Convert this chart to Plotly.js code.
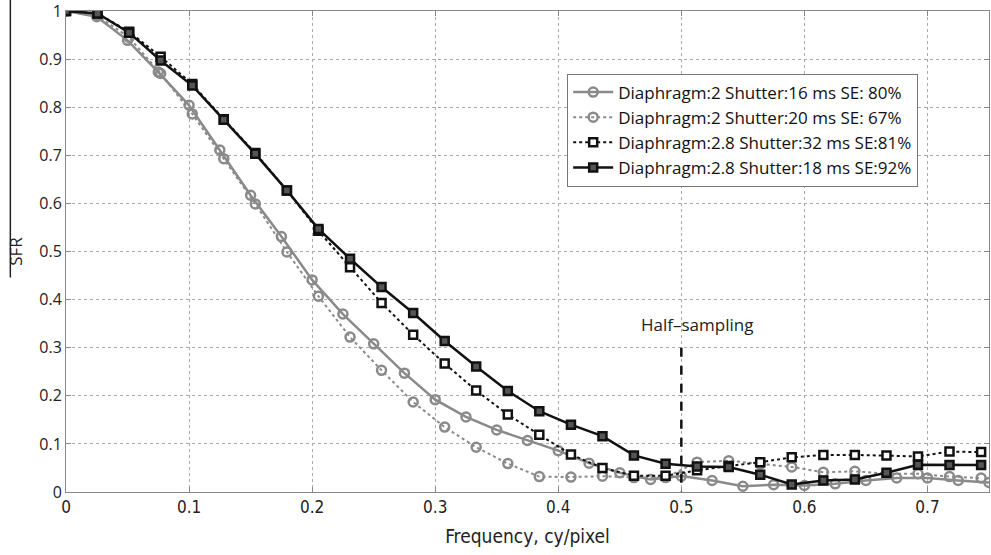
<!DOCTYPE html>
<html>
<head>
<meta charset="utf-8">
<script src="https://cdn.plot.ly/plotly-3.0.1.min.js"></script>
<style>html,body{margin:0;padding:0;background:#fff;}#chart{width:991px;height:555px;}</style>
</head>
<body>
<div id="chart"></div>
<script>
// Frequency grids (cy/pixel)
const freqA = [0, 0.025, 0.05, 0.075, 0.1, 0.125, 0.15, 0.175, 0.2, 0.225, 0.25, 0.275, 0.3, 0.325, 0.35, 0.375, 0.4, 0.425, 0.45, 0.475, 0.5, 0.525, 0.55, 0.575, 0.6, 0.625, 0.65, 0.675, 0.7, 0.725, 0.75];
const freqB = [0, 0.0256, 0.0513, 0.0769, 0.1026, 0.1282, 0.1538, 0.1795, 0.2051, 0.2308, 0.2564, 0.2821, 0.3077, 0.3333, 0.359, 0.3846, 0.4103, 0.4359, 0.4615, 0.4872, 0.5128, 0.5385, 0.5641, 0.5897, 0.6154, 0.641, 0.6667, 0.6923, 0.7179, 0.7436];

// Series names
const seriesNames = [
  "Diaphragm:2 Shutter:16 ms SE: 80%",
  "Diaphragm:2 Shutter:20 ms SE: 67%",
  "Diaphragm:2.8 Shutter:32 ms SE:81%",
  "Diaphragm:2.8 Shutter:18 ms SE:92%"
];

// SFR values
const sfrD2S16 = [1.0, 0.988, 0.939, 0.873, 0.804, 0.711, 0.617, 0.531, 0.441, 0.37, 0.308, 0.247, 0.192, 0.156, 0.129, 0.107, 0.086, 0.06, 0.040, 0.026, 0.033, 0.024, 0.012, 0.015, 0.0135, 0.017, 0.024, 0.029, 0.029, 0.024, 0.020];
const sfrD2S20 = [1.0, 0.99, 0.945, 0.87, 0.786, 0.693, 0.599, 0.499, 0.407, 0.322, 0.253, 0.187, 0.135, 0.093, 0.059, 0.032, 0.031, 0.033, 0.03, 0.03, 0.062, 0.065, 0.058, 0.052, 0.041, 0.043, 0.038, 0.038, 0.032, 0.029];
const sfrD28S32 = [1.0, 0.995, 0.957, 0.905, 0.848, 0.775, 0.705, 0.627, 0.543, 0.467, 0.393, 0.327, 0.267, 0.211, 0.161, 0.119, 0.078, 0.050, 0.034, 0.034, 0.045, 0.054, 0.062, 0.072, 0.077, 0.077, 0.076, 0.074, 0.084, 0.083];
const sfrD28S18 = [1.0, 0.995, 0.955, 0.897, 0.845, 0.774, 0.703, 0.627, 0.547, 0.485, 0.426, 0.372, 0.314, 0.261, 0.21, 0.168, 0.14, 0.116, 0.076, 0.0586, 0.053, 0.052, 0.036, 0.0156, 0.024, 0.026, 0.04, 0.0565, 0.056, 0.056];

const halfSampling = 0.5;
const halfSamplingTop = 0.3;

const xTicks = [0, 0.1, 0.2, 0.3, 0.4, 0.5, 0.6, 0.7];
const yTicks = [0, 0.1, 0.2, 0.3, 0.4, 0.5, 0.6, 0.7, 0.8, 0.9, 1];

const GRAY = '#8a8a8a';
const BLACK = '#111111';

const traces = [
  {x: freqA, y: sfrD2S16, name: seriesNames[0], mode: 'lines+markers',
   line: {color: GRAY, width: 2.5},
   marker: {symbol: 'circle-open', size: 9, color: GRAY, line: {width: 2.5, color: GRAY}}},
  {x: freqB, y: sfrD2S20, name: seriesNames[1], mode: 'lines+markers',
   line: {color: GRAY, width: 2, dash: 'dot'},
   marker: {symbol: 'circle-open', size: 9, color: GRAY, line: {width: 2.5, color: GRAY}}},
  {x: freqB, y: sfrD28S32, name: seriesNames[2], mode: 'lines+markers',
   line: {color: BLACK, width: 2, dash: 'dot'},
   marker: {symbol: 'square', size: 8, color: '#ffffff', line: {width: 2.5, color: BLACK}}},
  {x: freqB, y: sfrD28S18, name: seriesNames[3], mode: 'lines+markers',
   line: {color: BLACK, width: 2.5},
   marker: {symbol: 'square', size: 8, color: '#555555', line: {width: 2.5, color: BLACK}}}
];

const axisCommon = {
  showline: true, linecolor: '#888', linewidth: 1, mirror: 'ticks',
  ticks: 'inside', ticklen: 5, tickcolor: '#888',
  showgrid: true, gridcolor: '#aaa', gridwidth: 1, griddash: 'dot',
  zeroline: false, ticklabeloverflow: 'allow'
};

const layout = {
  width: 991, height: 555,
  margin: {l: 66, r: 2, t: 11, b: 63},
  paper_bgcolor: '#fff', plot_bgcolor: '#fff',
  font: {family: 'Open Sans, sans-serif', size: 16, color: '#222'},
  showlegend: true,
  legend: {x: 0.543, y: 0.87, xanchor: 'left', yanchor: 'top',
           bgcolor: '#fff', bordercolor: '#777', borderwidth: 1,
           font: {family: 'Open Sans, sans-serif', size: 17, color: '#111'},
           itemwidth: 40},
  xaxis: Object.assign({}, axisCommon, {
    range: [0, 0.75], tickvals: xTicks, ticktext: xTicks.map(String),
    tickfont: {family: 'Liberation Sans Narrow, DejaVu Sans Condensed, sans-serif', size: 17, color: '#222'},
    title: {text: 'Frequency, cy/pixel', standoff: 13,
            font: {family: 'Liberation Sans Narrow, DejaVu Sans Condensed, sans-serif', size: 19, color: '#222'}}
  }),
  yaxis: Object.assign({}, axisCommon, {
    range: [0, 1], tickvals: yTicks, ticktext: yTicks.map(String),
    tickfont: {family: 'Open Sans, sans-serif', size: 16, color: '#222'},
    title: {text: 'SFR', standoff: 12, font: {family: 'Open Sans, sans-serif', size: 17, color: '#222'}}
  }),
  shapes: [
    {type: 'line', xref: 'x', yref: 'y', x0: halfSampling, x1: halfSampling, y0: halfSamplingTop, y1: 0,
     line: {color: BLACK, width: 2.5, dash: 'dash'}},
    {type: 'line', xref: 'paper', yref: 'paper', x0: -0.0603, x1: -0.0603, y0: 0.446, y1: 1.03,
     line: {color: '#222', width: 1.5}}
  ],
  annotations: [
    {x: 0.4653, y: 0.348, xref: 'x', yref: 'y', text: 'Half–sampling',
     showarrow: false, xanchor: 'left', yanchor: 'middle',
     font: {family: 'Open Sans, sans-serif', size: 17, color: '#222'}}
  ]
};

Plotly.newPlot('chart', traces, layout, {displayModeBar: false, responsive: false});
</script>
</body>
</html>
